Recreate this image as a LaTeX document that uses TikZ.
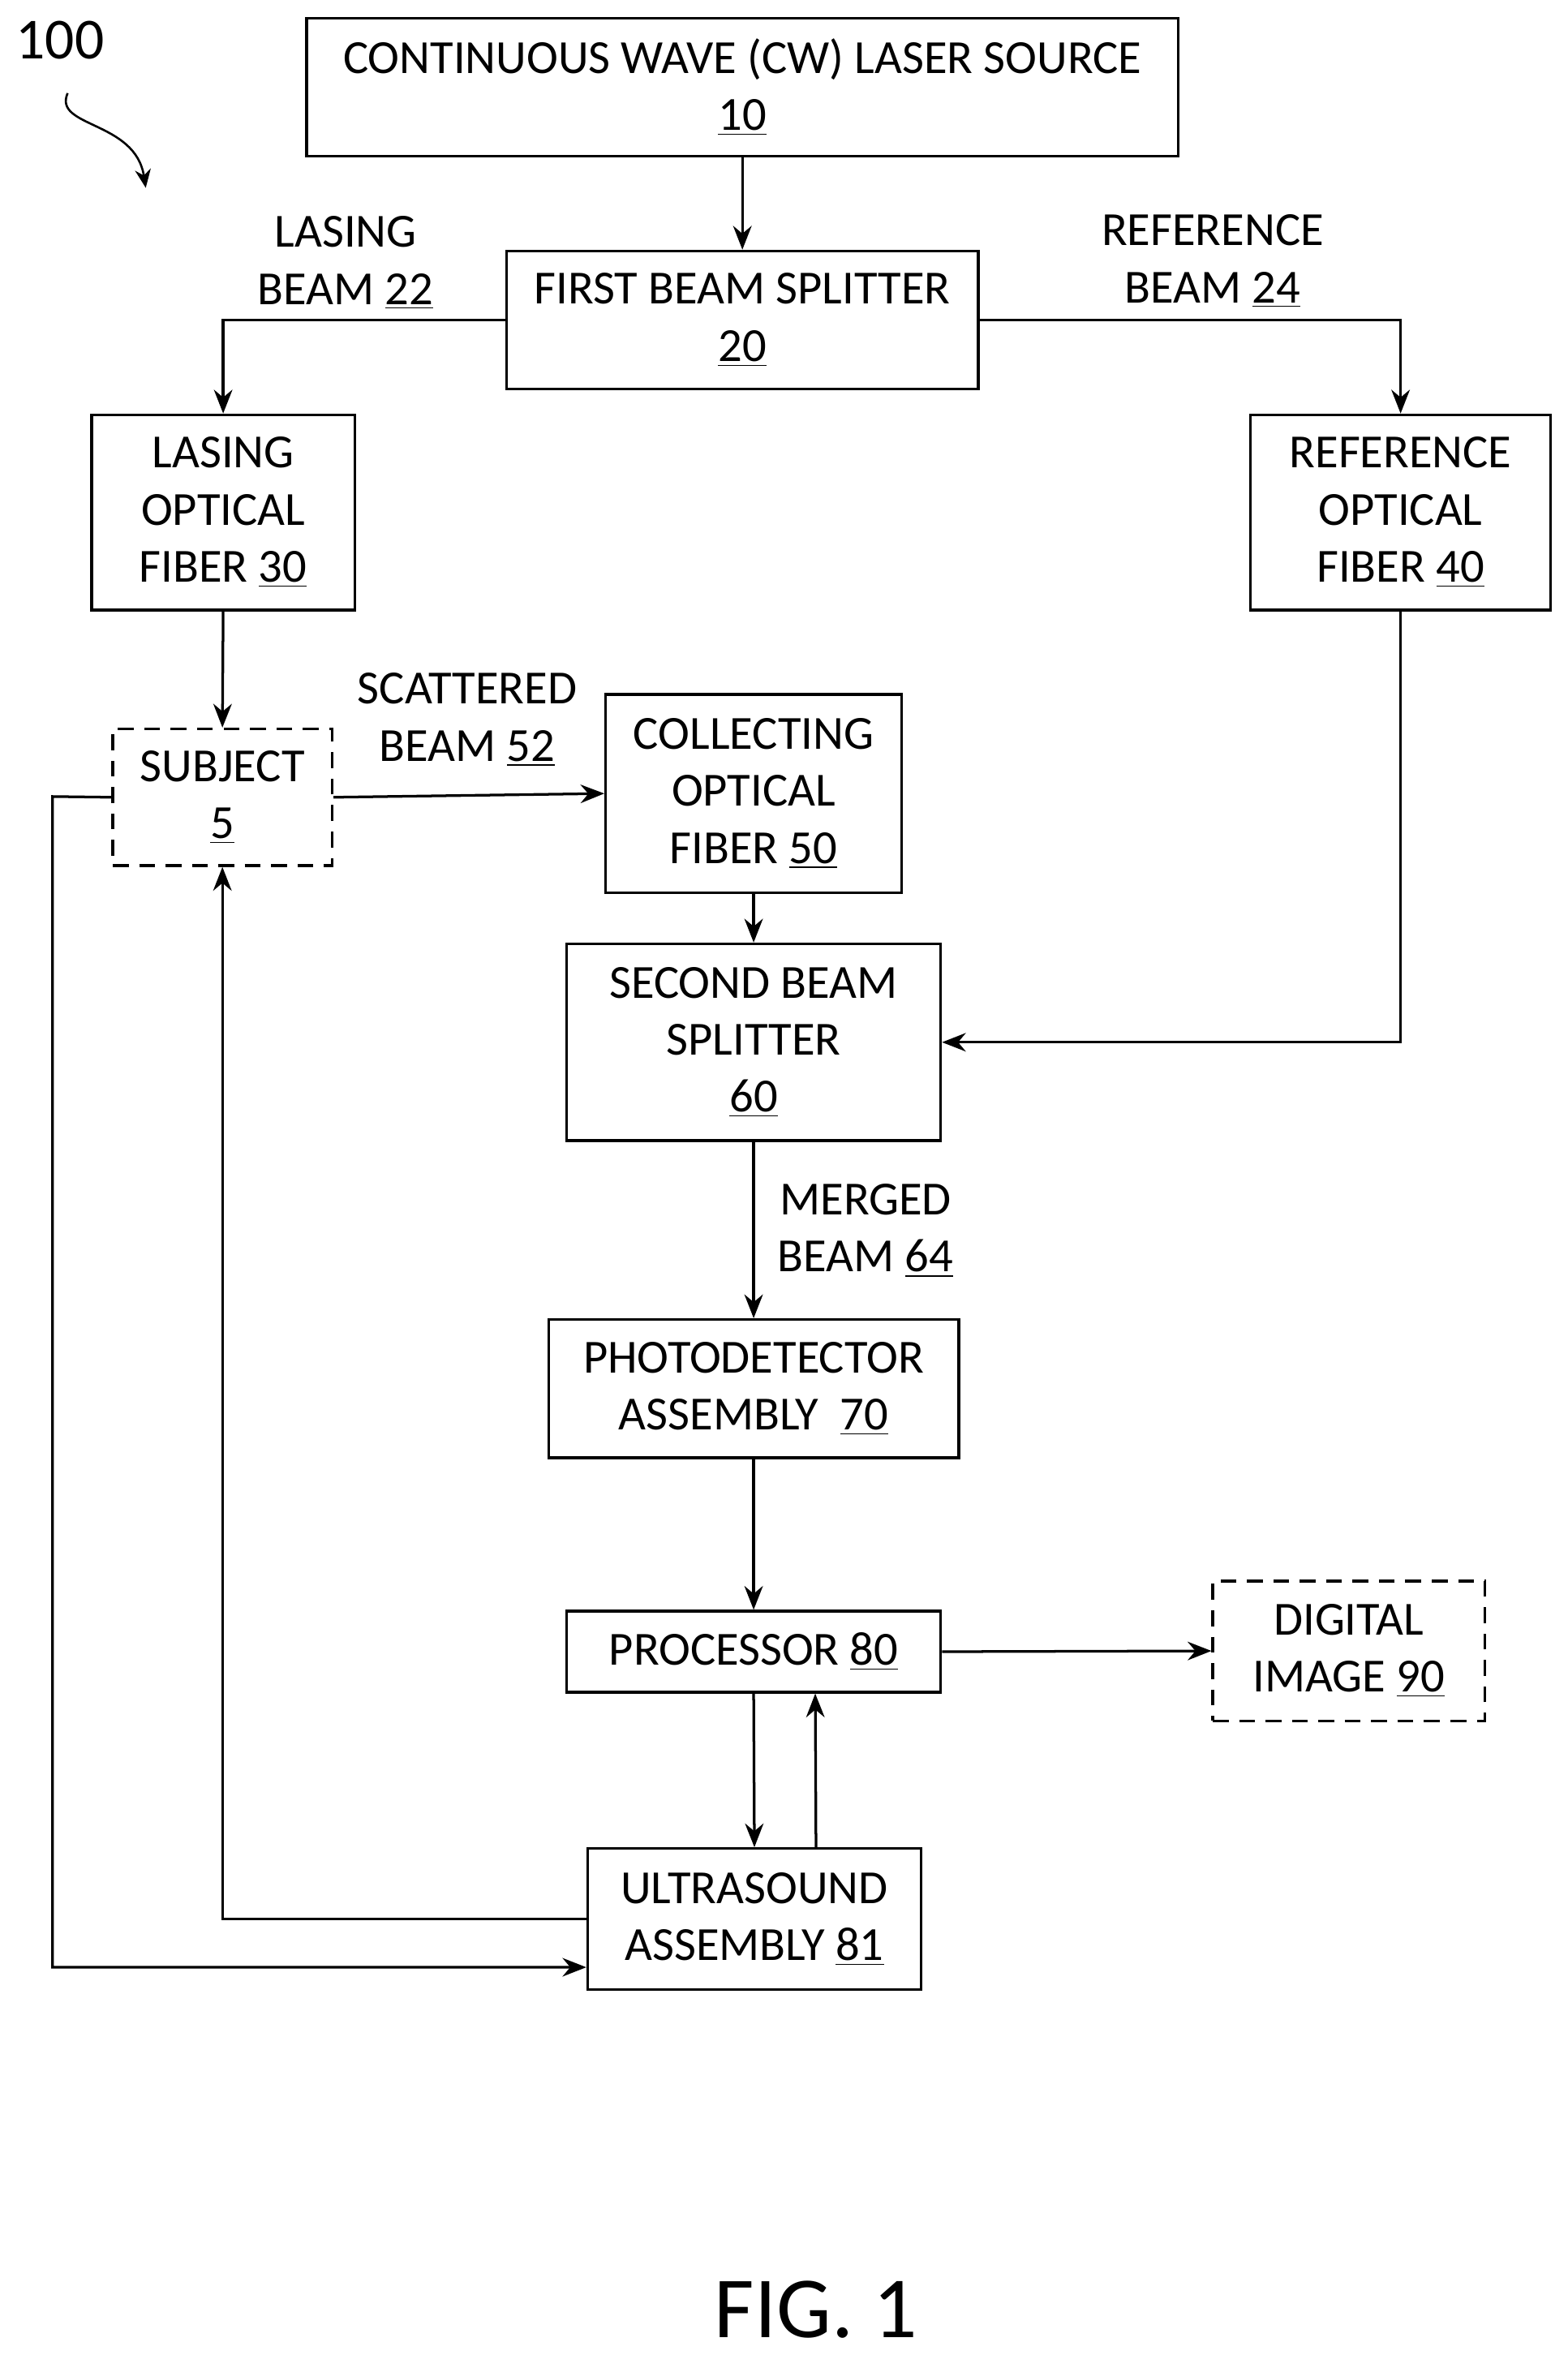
\documentclass[tikz,border=0pt]{standalone}
\usepackage{fontspec}
\setmainfont{Carlito}
\usetikzlibrary{arrows.meta}
\begin{document}
\begin{tikzpicture}[x=0.02cm,y=-0.02cm,
  box/.style={draw,line width=1pt,align=center,inner sep=0pt,font=\fontsize{18}{21.6}\selectfont},
  dbox/.style={box,dash pattern=on 6pt off 4pt},
  lab/.style={align=center,font=\fontsize{18}{21.6}\selectfont},
  arr/.style={line width=1pt,-{Stealth[length=9pt,width=7pt]}}]
\useasboundingbox (0,0) rectangle (1043,1567);
\node[box,minimum width=11.6cm,minimum height=1.84cm] (cw) at (494,58) {CONTINUOUS WAVE (CW) LASER SOURCE\\\underline{10}};
\node[box,minimum width=6.28cm,minimum height=1.84cm] (bs1) at (494,213) {FIRST BEAM SPLITTER\\\underline{20}};
\node[box,minimum width=3.5cm,minimum height=2.6cm] (lf) at (148.5,341) {LASING\\OPTICAL\\FIBER \underline{30}};
\node[box,minimum width=4cm,minimum height=2.6cm] (rf) at (932,341) {REFERENCE\\OPTICAL\\FIBER \underline{40}};
\node[dbox,minimum width=2.92cm,minimum height=1.82cm] (sub) at (148,530.5) {SUBJECT\\\underline{5}};
\node[box,minimum width=3.94cm,minimum height=2.64cm] (cf) at (501.5,528) {COLLECTING\\OPTICAL\\FIBER \underline{50}};
\node[box,minimum width=4.98cm,minimum height=2.62cm] (bs2) at (501.5,693.5) {SECOND BEAM\\SPLITTER\\\underline{60}};
\node[box,minimum width=5.46cm,minimum height=1.84cm] (pd) at (501.5,924) {PHOTODETECTOR\\ASSEMBLY~~\underline{70}};
\node[box,minimum width=4.98cm,minimum height=1.08cm] (pr) at (501.5,1099) {PROCESSOR \underline{80}};
\node[dbox,minimum width=3.62cm,minimum height=1.86cm] (di) at (897.5,1098.5) {DIGITAL\\IMAGE \underline{90}};
\node[box,minimum width=4.44cm,minimum height=1.88cm] (us) at (502,1277) {ULTRASOUND\\ASSEMBLY \underline{81}};
\node[lab] (l22) at (230,175) {LASING\\BEAM \underline{22}};
\node[lab] (l24) at (807,174) {REFERENCE\\BEAM \underline{24}};
\node[lab] (l52) at (311,479) {SCATTERED\\BEAM \underline{52}};
\node[lab] (l64) at (576,819) {MERGED\\BEAM \underline{64}};
\node[font=\fontsize{22}{26}\selectfont] (n100) at (40,27) {100};
\node[font=\fontsize{33}{40}\selectfont] (fig) at (543,1537) {FIG. 1};
\coordinate (c100a) at (45,62);
\coordinate (c100b) at (97,125);
\draw[line width=0.8pt,-{Stealth[length=7pt,width=6pt]}] (c100a) .. controls (35,85) and (90,80) .. (c100b);
\draw[arr] (cw.south) -- (bs1.north);
\draw[arr] (bs1.west) -| (lf.north);
\draw[arr] (bs1.east) -| (rf.north);
\draw[arr] (lf.south) -- (sub.north);
\draw[arr] (sub.east) -- (cf.west);
\draw[arr] (rf.south) |- (bs2.east);
\draw[arr] (cf.south) -- (bs2.north);
\draw[arr] (bs2.south) -- (pd.north);
\draw[arr] (pd.south) -- (pr.north);
\draw[arr] (pr.east) -- (di.west);
\draw[arr] (pr.south) -- (us.north);
\draw[arr] ([xshift=0.82cm]us.north) -- ([xshift=0.82cm]pr.south);
\draw[arr] (us.west) -| (sub.south);
\coordinate (lft) at (35,530);
\draw[arr] (sub.west) -- (lft) |- ([yshift=-0.64cm]us.west);
\end{tikzpicture}
\end{document}
